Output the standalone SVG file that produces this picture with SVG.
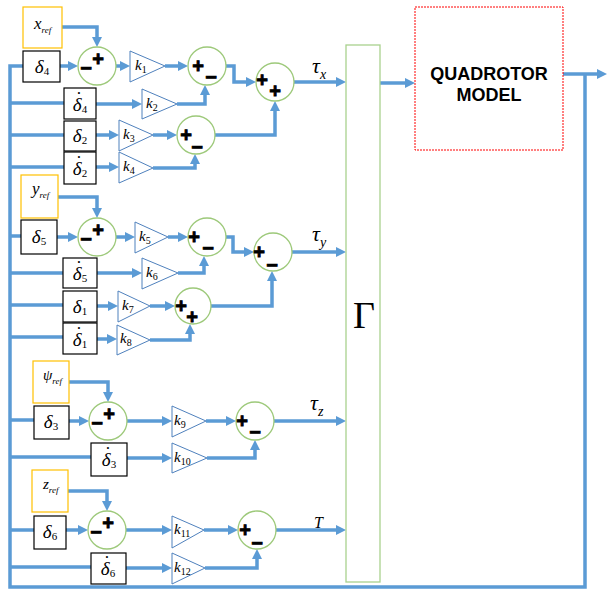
<svg xmlns="http://www.w3.org/2000/svg" width="607" height="591" viewBox="0 0 607 591">
<style>
.c{fill:none;stroke:#5B9BD5;stroke-width:3.5;stroke-linejoin:miter}
.a{marker-end:url(#ah)}
.sum{fill:#fff;stroke:#9DC97A;stroke-width:1.3}
.tri{fill:#fff;stroke:#4F81BD;stroke-width:1}
.bx{fill:#fff;stroke:#000;stroke-width:1.2}
.rf{fill:#fff;stroke:#FFC000;stroke-width:1.2}
.s{font-family:"Liberation Sans",Arial,sans-serif;font-weight:bold;font-size:20px;text-anchor:middle;fill:#000;stroke:#000;stroke-width:0.8}
.m{font-family:"Liberation Serif","Times New Roman",serif;font-style:italic;fill:#000}
.d{font-size:19px;text-anchor:middle}
.dot{font-family:"Liberation Serif","Times New Roman",serif;font-size:19px;text-anchor:middle;fill:#000}
.sub{font-style:normal;font-size:11px}
.k{font-size:15px}
.ks{font-size:10px;font-style:normal}
.q{font-family:"Liberation Sans",Arial,sans-serif;font-weight:bold;font-size:18px;text-anchor:middle;fill:#000}
</style>
<defs>
<marker id="ah" markerWidth="10" markerHeight="10" refX="6" refY="5" orient="auto" markerUnits="userSpaceOnUse">
<path d="M0,0 L10,5 L0,10 z" fill="#5B9BD5"/>
</marker>
</defs>
<rect width="607" height="591" fill="#fff"/>

<g id="connectors">
<path class="c a" d="M563,74 H603"/>
<path class="c" d="M585,74 V587 H10 V66 H23"/>
<path class="c" d="M10,103 H64 M10,135 H64 M10,167 H64 M10,236 H21 M10,273 H63 M10,305 H63 M10,337 H63 M10,420 H34 M10,457 H91 M10,530 H34 M10,567 H91"/>
<path class="c a" d="M62,27 H97 V43"/>
<path class="c a" d="M60,66 H74"/>
<path class="c a" d="M116,66 H126"/>
<path class="c a" d="M165,66 H184"/>
<path class="c a" d="M96,104 H138"/>
<path class="c a" d="M177,104 H205 V89"/>
<path class="c a" d="M96,135 H115"/>
<path class="c a" d="M153,135 H173"/>
<path class="c a" d="M96,167 H115"/>
<path class="c a" d="M153,168 H195 V158"/>
<path class="c a" d="M226,66 H234 V82 H252"/>
<path class="c a" d="M215,135 H275 V105"/>
<path class="c a" d="M294,82 H342"/>
<path class="c a" d="M58,197 H97 V214"/>
<path class="c a" d="M57,237 H74"/>
<path class="c a" d="M116,237 H131"/>
<path class="c a" d="M168,237 H184"/>
<path class="c a" d="M97,273 H138"/>
<path class="c a" d="M178,273 H204 V260"/>
<path class="c a" d="M97,306 H114"/>
<path class="c a" d="M150,306 H171"/>
<path class="c a" d="M97,339 H113"/>
<path class="c a" d="M150,340 H190 V328"/>
<path class="c a" d="M226,237 H233 V252 H250"/>
<path class="c a" d="M211,306 H272 V275"/>
<path class="c a" d="M292,252 H342"/>
<path class="c a" d="M69,382 H108 V398"/>
<path class="c a" d="M69,421 H85"/>
<path class="c a" d="M127,421 H168"/>
<path class="c a" d="M206,421 H232"/>
<path class="c a" d="M127,458 H168"/>
<path class="c a" d="M207,458 H255 V444"/>
<path class="c a" d="M274,421 H342"/>
<path class="c a" d="M68,491 H107 V507"/>
<path class="c a" d="M66,530 H84"/>
<path class="c a" d="M126,530 H168"/>
<path class="c a" d="M204,530 H234"/>
<path class="c a" d="M126,568 H168"/>
<path class="c a" d="M205,568 H257 V553"/>
<path class="c a" d="M276,530 H342"/>
<path class="c a" d="M380,83 H411"/>
</g>

<g id="xref"><rect class="rf" x="23" y="7" width="39" height="41"/><text class="m" x="34" y="29" font-size="17">x<tspan font-size="9" dy="4">ref</tspan></text></g>
<g id="yref"><rect class="rf" x="21" y="175" width="37" height="43"/><text class="m" x="32" y="194" font-size="17">y<tspan font-size="9" dy="4">ref</tspan></text></g>
<g id="psiref"><rect class="rf" x="33" y="361" width="36" height="42"/><text class="m" x="43" y="380" font-size="15">ψ<tspan font-size="9" dy="4">ref</tspan></text></g>
<g id="zref"><rect class="rf" x="32" y="470" width="36" height="42"/><text class="m" x="43" y="489" font-size="15">z<tspan font-size="9" dy="4">ref</tspan></text></g>

<g id="d4"><rect class="bx" x="23" y="51" width="37" height="31"/><text class="m d" x="42" y="73">δ<tspan class="sub" dy="2">4</tspan></text></g>
<g id="dd4"><rect class="bx" x="64" y="88" width="32" height="31"/><text class="m d" x="80" y="111">δ<tspan class="sub" dy="2">4</tspan></text><text class="dot" x="79" y="105">˙</text></g>
<g id="d2"><rect class="bx" x="64" y="121" width="32" height="30"/><text class="m d" x="80" y="142">δ<tspan class="sub" dy="2">2</tspan></text></g>
<g id="dd2"><rect class="bx" x="64" y="152" width="32" height="32"/><text class="m d" x="80" y="175">δ<tspan class="sub" dy="2">2</tspan></text><text class="dot" x="79" y="169">˙</text></g>

<g id="d5"><rect class="bx" x="21" y="220" width="36" height="34"/><text class="m d" x="39" y="243">δ<tspan class="sub" dy="2">5</tspan></text></g>
<g id="dd5"><rect class="bx" x="63" y="258" width="34" height="30"/><text class="m d" x="80" y="280">δ<tspan class="sub" dy="2">5</tspan></text><text class="dot" x="79" y="274">˙</text></g>
<g id="d1"><rect class="bx" x="63" y="291" width="34" height="31"/><text class="m d" x="80" y="313">δ<tspan class="sub" dy="2">1</tspan></text></g>
<g id="dd1"><rect class="bx" x="63" y="323" width="34" height="31"/><text class="m d" x="80" y="346">δ<tspan class="sub" dy="2">1</tspan></text><text class="dot" x="79" y="340">˙</text></g>

<g id="d3"><rect class="bx" x="34" y="406" width="35" height="33"/><text class="m d" x="51" y="428">δ<tspan class="sub" dy="2">3</tspan></text></g>
<g id="dd3"><rect class="bx" x="91" y="443" width="36" height="33"/><text class="m d" x="109" y="466">δ<tspan class="sub" dy="2">3</tspan></text><text class="dot" x="108" y="460">˙</text></g>
<g id="d6"><rect class="bx" x="34" y="516" width="32" height="33"/><text class="m d" x="50" y="538">δ<tspan class="sub" dy="2">6</tspan></text></g>
<g id="dd6"><rect class="bx" x="91" y="553" width="35" height="31"/><text class="m d" x="108" y="575">δ<tspan class="sub" dy="2">6</tspan></text><text class="dot" x="107" y="569">˙</text></g>

<g id="k1"><path class="tri" d="M130,51 L165,66 L130,82 z"/><text class="m k" x="135" y="70">k<tspan class="ks" dy="3">1</tspan></text></g>
<g id="k2"><path class="tri" d="M142,89 L177,104 L142,119 z"/><text class="m k" x="146" y="108">k<tspan class="ks" dy="3">2</tspan></text></g>
<g id="k3"><path class="tri" d="M119,120 L153,135 L119,151 z"/><text class="m k" x="123" y="139">k<tspan class="ks" dy="3">3</tspan></text></g>
<g id="k4"><path class="tri" d="M119,152 L153,168 L119,183 z"/><text class="m k" x="123" y="171">k<tspan class="ks" dy="3">4</tspan></text></g>
<g id="k5"><path class="tri" d="M135,222 L168,237 L135,253 z"/><text class="m k" x="139" y="241">k<tspan class="ks" dy="3">5</tspan></text></g>
<g id="k6"><path class="tri" d="M142,258 L178,273 L142,289 z"/><text class="m k" x="146" y="277">k<tspan class="ks" dy="3">6</tspan></text></g>
<g id="k7"><path class="tri" d="M118,291 L150,306 L118,322 z"/><text class="m k" x="122" y="310">k<tspan class="ks" dy="3">7</tspan></text></g>
<g id="k8"><path class="tri" d="M117,325 L150,340 L117,355 z"/><text class="m k" x="120" y="343">k<tspan class="ks" dy="3">8</tspan></text></g>
<g id="k9"><path class="tri" d="M172,406 L206,421 L172,437 z"/><text class="m k" x="174" y="425">k<tspan class="ks" dy="3">9</tspan></text></g>
<g id="k10"><path class="tri" d="M172,443 L207,458 L172,473 z"/><text class="m k" x="174" y="462">k<tspan class="ks" dy="3">10</tspan></text></g>
<g id="k11"><path class="tri" d="M172,516 L204,530 L172,548 z"/><text class="m k" x="174" y="534">k<tspan class="ks" dy="3">11</tspan></text></g>
<g id="k12"><path class="tri" d="M172,553 L205,568 L172,584 z"/><text class="m k" x="174" y="572">k<tspan class="ks" dy="3">12</tspan></text></g>

<g id="c1"><circle class="sum" cx="97" cy="66" r="19"/><text class="s" x="86" y="75">−</text><text class="s" x="98" y="66">+</text></g>
<g id="c2"><circle class="sum" cx="207" cy="66" r="19"/><text class="s" x="198" y="73">+</text><text class="s" x="211" y="84">−</text></g>
<g id="c3"><circle class="sum" cx="196" cy="135" r="19"/><text class="s" x="186" y="142">+</text><text class="s" x="197" y="154">−</text></g>
<g id="c4"><circle class="sum" cx="275" cy="82" r="19"/><text class="s" x="262" y="87">+</text><text class="s" x="275" y="98">+</text></g>
<g id="c5"><circle class="sum" cx="97" cy="237" r="19"/><text class="s" x="86" y="246">−</text><text class="s" x="98" y="237">+</text></g>
<g id="c6"><circle class="sum" cx="207" cy="237" r="19"/><text class="s" x="194" y="244">+</text><text class="s" x="208" y="255">−</text></g>
<g id="c7"><circle class="sum" cx="193" cy="306" r="18"/><text class="s" x="181" y="313">+</text><text class="s" x="192" y="324">+</text></g>
<g id="c8"><circle class="sum" cx="273" cy="252" r="19"/><text class="s" x="259" y="259">+</text><text class="s" x="272" y="272">−</text></g>
<g id="c9"><circle class="sum" cx="108" cy="421" r="19"/><text class="s" x="97" y="430">−</text><text class="s" x="109" y="421">+</text></g>
<g id="c10"><circle class="sum" cx="255" cy="421" r="19"/><text class="s" x="242" y="428">+</text><text class="s" x="255" y="439">−</text></g>
<g id="c11"><circle class="sum" cx="107" cy="530" r="19"/><text class="s" x="96" y="539">−</text><text class="s" x="108" y="530">+</text></g>
<g id="c12"><circle class="sum" cx="257" cy="530" r="19"/><text class="s" x="245" y="537">+</text><text class="s" x="257" y="550">−</text></g>

<g id="labels">
<text class="m" x="312" y="73" font-size="22">τ<tspan font-size="14" dy="6">x</tspan></text>
<text class="m" x="312" y="241" font-size="22">τ<tspan font-size="14" dy="6">y</tspan></text>
<text class="m" x="310" y="410" font-size="22">τ<tspan font-size="14" dy="6">z</tspan></text>
<text class="m" x="314" y="528" font-size="16">T</text>
</g>

<g id="gamma"><rect x="346" y="45" width="34" height="537" fill="#fff" stroke="#A9D18E" stroke-width="1.3"/><text x="364" y="328" font-family="'Liberation Serif','Times New Roman',serif" font-size="38" text-anchor="middle" fill="#000">Γ</text></g>

<g id="model"><rect x="415" y="7" width="148" height="143" fill="#fff" stroke="#FF0000" stroke-width="1" stroke-dasharray="2,1"/><text class="q" x="489" y="80">QUADROTOR</text><text class="q" x="489" y="101">MODEL</text></g>
</svg>
